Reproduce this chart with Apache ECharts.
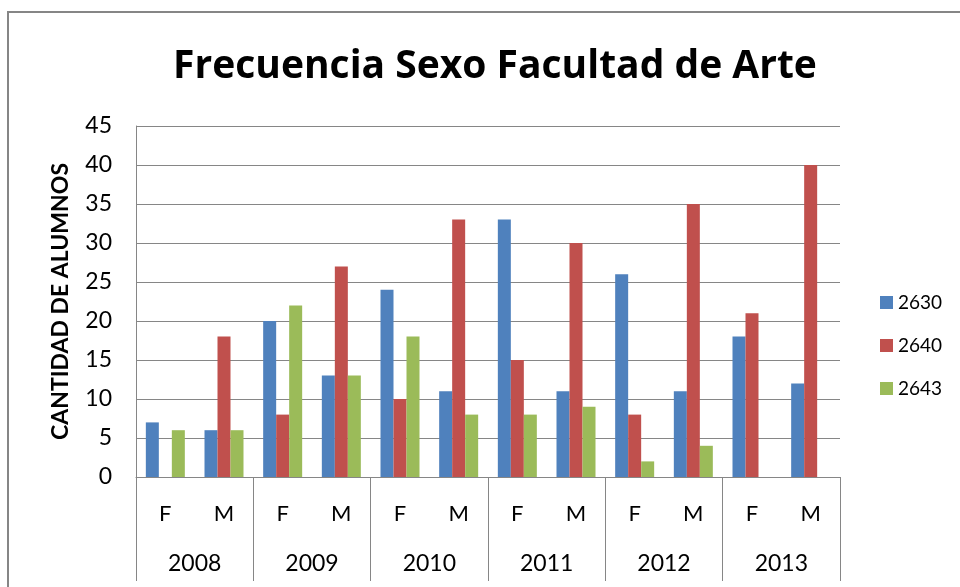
<!DOCTYPE html>
<html>
<head>
<meta charset="utf-8">
<title>Frecuencia Sexo Facultad de Arte</title>
<script src="https://cdn.jsdelivr.net/npm/echarts@6/dist/echarts.min.js"></script>
<style>
  html, body { margin: 0; padding: 0; background: #fff; }
  #main { width: 960px; height: 587px; }
</style>
</head>
<body>
<div id="main"></div>
<script type="text/javascript">
// datos
var sexos = ['F', 'M', 'F', 'M', 'F', 'M', 'F', 'M', 'F', 'M', 'F', 'M'];
var anios = ['2008', '2009', '2010', '2011', '2012', '2013'];
var serie2630 = [7, 6, 20, 13, 24, 11, 33, 11, 26, 11, 18, 12];
var serie2640 = [0, 18, 8, 27, 10, 33, 15, 30, 8, 35, 21, 40];
var serie2643 = [6, 6, 22, 13, 18, 8, 8, 9, 2, 4, 0, 0];
var yTicks = [0, 5, 10, 15, 20, 25, 30, 35, 40, 45];

var myChart = echarts.init(document.getElementById('main'));

var font = 'Lato, "Open Sans", sans-serif';

var option = {
    animation: false,
    backgroundColor: '#fff',
    title: {
        text: 'Frecuencia Sexo Facultad de Arte',
        left: 490,
        top: 42,
        textAlign: 'center',
        textStyle: { fontFamily: '"Open Sans", sans-serif', fontSize: 39, fontWeight: 'bold', color: '#000' }
    },
    graphic: [{
        type: 'rect',
        shape: { x: 8, y: 12, width: 1000, height: 700 },
        style: { fill: 'none', stroke: '#868686', lineWidth: 2 },
        silent: true
    }],
    legend: {
        orient: 'vertical',
        left: 875,
        top: 288,
        itemWidth: 13,
        itemHeight: 13,
        itemGap: 24,
        icon: 'rect',
        textStyle: { fontFamily: font, fontSize: 19, color: '#000' },
        data: ['2630', '2640', '2643']
    },
    grid: { left: 136, right: 120, top: 126, bottom: 110 },
    xAxis: [{
        type: 'category',
        data: sexos,
        position: 'bottom',
        axisLine: { lineStyle: { color: '#868686', width: 1 } },
        axisTick: { show: false },
        axisLabel: { fontFamily: font, fontSize: 22, color: '#000', margin: 26, interval: 0 }
    }, {
        type: 'category',
        data: anios,
        position: 'bottom',
        axisLine: { show: false },
        axisTick: { show: true, length: 104, interval: 0, lineStyle: { color: '#868686' } },
        axisLabel: { fontFamily: font, fontSize: 23, color: '#000', margin: 75, interval: 0 }
    }],
    yAxis: {
        type: 'value',
        min: yTicks[0],
        max: yTicks[yTicks.length - 1],
        interval: 5,
        name: 'CANTIDAD DE ALUMNOS',
        nameLocation: 'middle',
        nameGap: 64,
        nameRotate: 90,
        nameTextStyle: { fontFamily: font, fontSize: 23, fontWeight: 'bold', color: '#000' },
        axisLine: { show: true, lineStyle: { color: '#868686' } },
        axisTick: { show: false },
        splitLine: { lineStyle: { color: '#868686', width: 1 } },
        axisLabel: { fontFamily: font, fontSize: 23, color: '#000', margin: 24 }
    },
    series: [{
        name: '2630', type: 'bar', data: serie2630, barWidth: 13, barGap: '0%',
        itemStyle: { color: '#4F81BD' }
    }, {
        name: '2640', type: 'bar', data: serie2640, barWidth: 13, barGap: '0%',
        itemStyle: { color: '#C0504D' }
    }, {
        name: '2643', type: 'bar', data: serie2643, barWidth: 13, barGap: '0%',
        itemStyle: { color: '#9BBB59' }
    }]
};

myChart.setOption(option);
</script>
</body>
</html>
